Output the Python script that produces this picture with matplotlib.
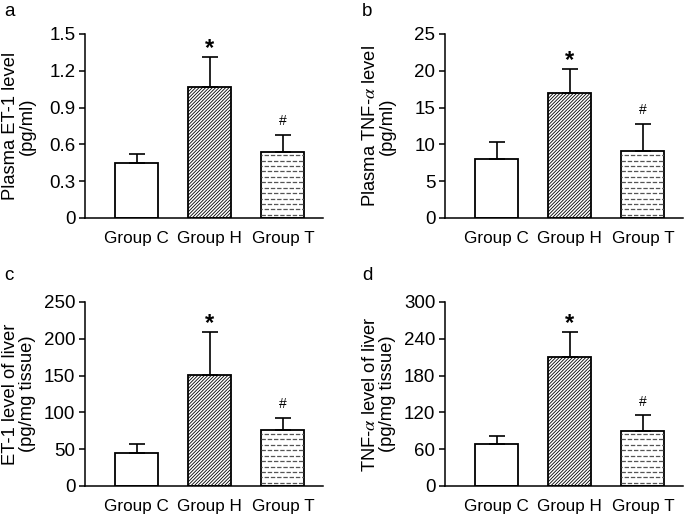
import matplotlib
matplotlib.use("Agg")
import matplotlib.pyplot as plt
import numpy as np

plt.rcParams['font.family'] = ['Liberation Sans', 'DejaVu Sans']
plt.rcParams['mathtext.fontset'] = 'stix'
plt.rcParams['hatch.linewidth'] = 0.6

groups = ["Group C", "Group H", "Group T"]

# panel a: plasma ET-1 (pg/ml)
et1_plasma = [0.445, 1.065, 0.535]
et1_plasma_sd = [0.075, 0.25, 0.145]
# panel b: plasma TNF-alpha (pg/ml)
tnf_plasma = [8.0, 16.95, 9.15]
tnf_plasma_sd = [2.3, 3.3, 3.6]
# panel c: liver ET-1 (pg/mg tissue)
et1_liver = [45, 151, 76]
et1_liver_sd = [12, 58, 17]
# panel d: liver TNF-alpha (pg/mg tissue)
tnf_liver = [69, 210, 90]
tnf_liver_sd = [12, 41, 25]

panels = [
    ("a", et1_plasma, et1_plasma_sd, 1.5, 0.3, ["0", "0.3", "0.6", "0.9", "1.2", "1.5"],
     "Plasma ET-1 level\n(pg/ml)"),
    ("b", tnf_plasma, tnf_plasma_sd, 25, 5, None,
     "Plasma TNF-$\\alpha$ level\n(pg/ml)"),
    ("c", et1_liver, et1_liver_sd, 250, 50, None,
     "ET-1 level of liver\n(pg/mg tissue)"),
    ("d", tnf_liver, tnf_liver_sd, 300, 60, None,
     "TNF-$\\alpha$ level of liver\n(pg/mg tissue)"),
]

W, H = 685, 519
fig = plt.figure(figsize=(W / 100, H / 100), dpi=100)

# axes boxes in pixels: left, right, bottom(y of zero), top
boxes = [(85, 323, 218, 34), (445, 683, 218, 34), (85, 323, 486, 302), (445, 683, 486, 302)]
letter_pos = [(4, 12), (362, 12), (4, 276), (362, 276)]

x = np.arange(len(groups))
width = 0.59

for (letter, vals, sds, ymax, step, tlabels, ylab), (l, r, b, t), (lx, ly) in zip(panels, boxes, letter_pos):
    ax = fig.add_axes([l / W, 1 - b / H, (r - l) / W, (b - t) / H])
    ax.set_xlim(-0.705, 2.548)
    ax.set_ylim(0, ymax)

    bars = ax.bar(x, vals, width, color='white', edgecolor='black', linewidth=1.3, zorder=2)
    bars[1].set_hatch('//////////')

    # dashed fill pattern for group T, staggered rows
    tb = bars[2]
    dy = ymax / 34.0
    ys = np.arange(dy * 0.6, vals[2], dy)
    for i, yy in enumerate(ys):
        off = 0 if i % 2 == 0 else 2.5
        ln, = ax.plot([x[2] - width / 2, x[2] + width / 2], [yy, yy], color='#555555',
                      linewidth=0.9, linestyle=(off, (3.5, 1.5)), zorder=2.5)
        ln.set_clip_path(tb)

    ax.errorbar(x, vals, yerr=[np.zeros(3), sds], fmt='none', ecolor='black',
                elinewidth=1.2, capsize=5.5, capthick=1.2, zorder=3)

    tops = np.array(vals) + np.array(sds)
    ax.text(x[1], tops[1] + ymax * 0.01, "*", ha='center', va='baseline', fontsize=17, fontweight='bold')
    ax.text(x[2], tops[2] + ymax * 0.054, "#", ha='center', va='baseline', fontsize=10)

    ax.spines['top'].set_visible(False)
    ax.spines['right'].set_visible(False)
    ax.spines['left'].set_linewidth(1.1)
    ax.spines['bottom'].set_linewidth(1.1)

    ax.set_yticks(np.arange(0, ymax + step / 2, step))
    if tlabels:
        ax.set_yticklabels(tlabels)
    ax.tick_params(axis='y', direction='out', length=4, width=1.1, labelsize=13.5, pad=3)
    ax.set_xticks(x)
    ax.set_xticklabels(groups)
    ax.tick_params(axis='x', length=0, labelsize=12.3, pad=9)

    ax.set_ylabel(ylab, fontsize=13.2, linespacing=1.0)
    ax.yaxis.set_label_coords(-0.205, 0.5)

    fig.text(lx / W, 1 - ly / H, letter, fontsize=13.5, ha='left', va='center')

fig.savefig("out.png", dpi=100)
